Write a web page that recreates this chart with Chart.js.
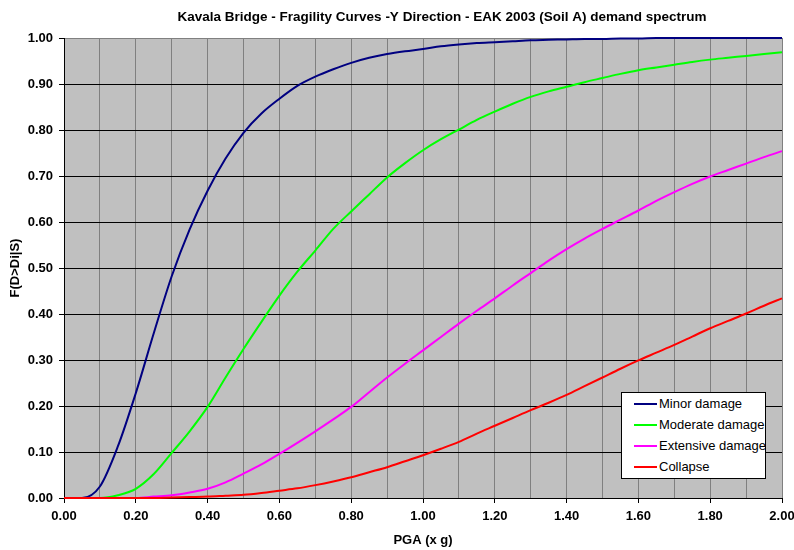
<!DOCTYPE html>
<html lang="en">
<head>
    <meta charset="UTF-8">
    <title>Kavala Bridge - Fragility Curves</title>
    <script src="https://cdn.jsdelivr.net/npm/chart.js"></script>
    <style>
        body {
            margin: 0;
            padding: 0;
            background: #fff;
            font-family: "Liberation Sans", Arial, sans-serif;
        }

        .wrap {
            position: relative;
            width: 794px;
            height: 550px;
        }

        .legend {
            position: absolute;
            left: 621px;
            top: 392px;
            width: 143px;
            height: 85px;
            background: #fff;
            border: 1px solid #000;
            font-size: 13px;
            color: #000;
        }

        .legend .row {
            position: absolute;
            left: 0;
            height: 20px;
            line-height: 20px;
            white-space: nowrap;
        }

        .legend .swatch {
            position: absolute;
            left: 12px;
            top: 9px;
            width: 23px;
            height: 2px;
        }

        .legend .label {
            position: absolute;
            left: 37px;
            top: 0;
        }
    </style>
</head>
<body>
    <div class="wrap">
        <canvas id="chart" width="794" height="550"></canvas>
        <div id="legend" class="legend"></div>
    </div>

    <script>
        // PGA values (x g)
        const pga = [0.00, 0.05, 0.10, 0.15, 0.20, 0.25, 0.30, 0.35, 0.40, 0.45,
                     0.50, 0.55, 0.60, 0.65, 0.70, 0.75, 0.80, 0.85, 0.90, 0.95,
                     1.00, 1.05, 1.10, 1.15, 1.20, 1.25, 1.30, 1.35, 1.40, 1.45,
                     1.50, 1.55, 1.60, 1.65, 1.70, 1.75, 1.80, 1.85, 1.90, 1.95, 2.00];

        const minorDamage = [0, 0, 0.025, 0.112, 0.228, 0.358, 0.482, 0.584, 0.668, 0.738,
                             0.794, 0.836, 0.868, 0.896, 0.916, 0.932, 0.946, 0.957, 0.965, 0.971,
                             0.976, 0.982, 0.986, 0.989, 0.991, 0.993, 0.995, 0.996, 0.997, 0.998,
                             0.998, 0.999, 0.999, 1, 1, 1, 1, 1, 1, 1, 1];

        const moderateDamage = [0, 0, 0, 0.006, 0.02, 0.052, 0.098, 0.145, 0.198, 0.262,
                                0.324, 0.383, 0.44, 0.492, 0.538, 0.585, 0.623, 0.66, 0.697, 0.728,
                                0.756, 0.78, 0.801, 0.822, 0.84, 0.857, 0.872, 0.884, 0.894, 0.904,
                                0.913, 0.922, 0.93, 0.936, 0.942, 0.948, 0.953, 0.957, 0.961, 0.965, 0.969];

        const extensiveDamage = [0, 0, 0, 0, 0, 0.003, 0.006, 0.012, 0.02, 0.034,
                                 0.053, 0.073, 0.096, 0.12, 0.145, 0.171, 0.198, 0.23, 0.262, 0.292,
                                 0.321, 0.35, 0.379, 0.407, 0.434, 0.462, 0.489, 0.516, 0.541, 0.564,
                                 0.585, 0.605, 0.625, 0.646, 0.665, 0.683, 0.699, 0.713, 0.727, 0.741, 0.754];

        const collapse = [0, 0, 0, 0, 0, 0, 0.001, 0.002, 0.003, 0.005,
                          0.007, 0.011, 0.016, 0.021, 0.028, 0.036, 0.045, 0.056, 0.067, 0.08,
                          0.093, 0.107, 0.122, 0.14, 0.157, 0.174, 0.191, 0.207, 0.224, 0.243,
                          0.262, 0.281, 0.299, 0.316, 0.333, 0.351, 0.369, 0.385, 0.401, 0.418, 0.434];

        const seriesNames = ['Minor damage', 'Moderate damage', 'Extensive damage', 'Collapse'];
        const seriesColors = ['#000080', '#00ff00', '#ff00ff', '#ff0000'];
        const seriesValues = [minorDamage, moderateDamage, extensiveDamage, collapse];

        const chartTitle = 'Kavala Bridge - Fragility Curves -Y Direction - EAK 2003 (Soil A) demand spectrum';
        const FONT = '"Liberation Sans", Arial, sans-serif';

        const datasets = seriesValues.map((values, i) => ({
            label: seriesNames[i],
            data: values.map((v, j) => ({ x: pga[j], y: v })),
            borderColor: seriesColors[i],
            backgroundColor: seriesColors[i],
            borderWidth: 2,
            pointRadius: 0,
            fill: false,
            cubicInterpolationMode: 'monotone',
            clip: false,
            order: seriesValues.length - i,
        }));

        // gray plot area + title
        const plotBackground = {
            id: 'plotBackground',
            beforeDraw(chart) {
                const { ctx, chartArea } = chart;
                ctx.save();
                ctx.fillStyle = '#c0c0c0';
                ctx.fillRect(chartArea.left, chartArea.top,
                    chartArea.right - chartArea.left, chartArea.bottom - chartArea.top);
                ctx.restore();
            },
            afterDraw(chart) {
                const { ctx, chartArea } = chart;
                ctx.save();
                ctx.fillStyle = '#000';
                ctx.font = 'bold 13.5px ' + FONT;
                ctx.textAlign = 'center';
                ctx.textBaseline = 'middle';
                ctx.fillText(chartTitle, (chartArea.left + chartArea.right) / 2 + 19, 17);
                ctx.restore();
            }
        };

        const tickFont = { family: FONT, size: 13, weight: 'bold' };

        const chart = new Chart(document.getElementById('chart'), {
            type: 'line',
            data: { datasets: datasets },
            plugins: [plotBackground],
            options: {
                responsive: false,
                animation: false,
                layout: { padding: { left: 0, right: 0, top: 38, bottom: 0 } },
                plugins: {
                    legend: { display: false },
                    title: { display: false },
                    tooltip: { enabled: false },
                },
                scales: {
                    x: {
                        type: 'linear',
                        min: 0,
                        max: 2,
                        afterFit: (scale) => {
                            scale.height = 52;
                            scale.paddingRight = 12;
                        },
                        ticks: {
                            stepSize: 0.1,
                            autoSkip: false,
                            maxRotation: 0,
                            padding: 6,
                            color: '#000',
                            font: tickFont,
                            callback: (v, i) => (i % 2 === 0 ? Number(v).toFixed(2) : ''),
                        },
                        grid: {
                            color: '#808080',
                            lineWidth: 1,
                            tickLength: 5,
                            tickColor: (ctx) => (ctx.index % 2 === 0 ? '#000' : 'rgba(0,0,0,0)'),
                        },
                        border: { color: '#000', width: 1 },
                        title: {
                            display: true,
                            text: 'PGA (x g)',
                            color: '#000',
                            font: tickFont,
                            padding: { top: 0, bottom: 2 },
                        },
                    },
                    y: {
                        min: 0,
                        max: 1,
                        afterFit: (scale) => { scale.width = 64; },
                        ticks: {
                            stepSize: 0.1,
                            padding: 6,
                            color: '#000',
                            font: tickFont,
                            callback: (v) => Number(v).toFixed(2),
                        },
                        grid: {
                            color: (ctx) => (ctx.tick && ctx.tick.value >= 0.999 ? '#808080' : '#000'),
                            lineWidth: 1,
                            tickLength: 5,
                            tickColor: '#000',
                        },
                        border: { color: '#000', width: 1 },
                        title: {
                            display: true,
                            text: 'F(D>Di|S)',
                            color: '#000',
                            font: tickFont,
                            padding: { top: 8, bottom: 0 },
                        },
                    },
                },
            },
        });

        // legend box inside the plot
        const legendBox = document.getElementById('legend');
        seriesNames.forEach((name, i) => {
            const row = document.createElement('div');
            row.className = 'row';
            row.style.top = (1 + i * 21) + 'px';
            row.innerHTML = '<span class="swatch" style="background:' + seriesColors[i] + '"></span>' +
                '<span class="label">' + name + '</span>';
            legendBox.appendChild(row);
        });
    </script>
</body>
</html>
